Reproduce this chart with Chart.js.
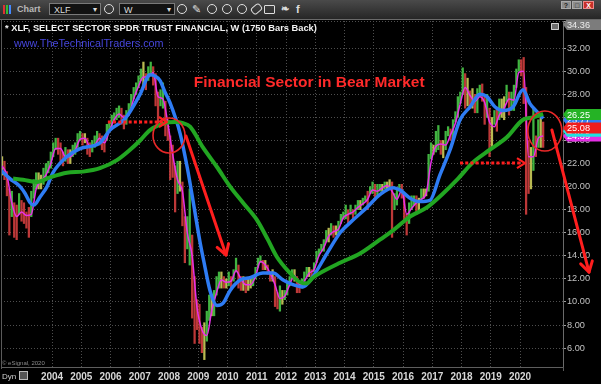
<!DOCTYPE html>
<html>
<head>
<meta charset="utf-8">
<script src="https://cdn.jsdelivr.net/npm/chart.js@4.4.1/dist/chart.umd.min.js"></script>
<style>
  html,body{margin:0;padding:0;background:#000;width:601px;height:384px;overflow:hidden;}
  #wrap{position:relative;width:601px;height:384px;font-family:"Liberation Sans",Arial,sans-serif;}
  #cv{position:absolute;left:0;top:0;width:601px;height:384px;}
  .abs{position:absolute;white-space:nowrap;}
  #tb{left:0;top:0;width:601px;height:19px;background:linear-gradient(#4a4a4a,#262626);border-bottom:1px solid #6a6a6a;}
  .box{position:absolute;top:3px;height:12px;background:#121212;border:1px solid #7a7a7a;color:#ddd;font-size:9px;line-height:12px;padding-left:4px;box-sizing:border-box;}
  .ic{position:absolute;top:4px;width:10px;height:10px;border:1.5px solid #e0e0e0;border-radius:50%;box-sizing:border-box;}
  .wb{position:absolute;top:1px;height:8px;width:10px;border:1px solid #aaa;background:#8c8c8c;color:#222;font-size:7px;line-height:7px;text-align:center;box-sizing:border-box;font-weight:bold;}
</style>
</head>
<body>
<div id="wrap">
  <div id="cv"><canvas id="c" width="601" height="384"></canvas></div>
  <div id="tb" class="abs">
    <span class="abs" style="left:3px;top:5px;width:2px;height:9px;background:#d33"></span>
    <span class="abs" style="left:6px;top:5px;width:2px;height:9px;background:#3b3"></span>
    <span class="abs" style="left:9px;top:5px;width:2px;height:9px;background:#48f"></span>
    <span class="abs" style="left:17px;top:4px;font-size:9px;font-weight:bold;color:#b8b8b8;line-height:11px">Chart</span>
    <div class="box" style="left:49px;width:52px">XLF<span class="abs" style="right:3px;top:0;font-size:8px">▾</span></div>
    <span class="ic" style="left:104px"></span>
    <div class="box" style="left:119px;width:56px">W<span class="abs" style="right:3px;top:0;font-size:8px">▾</span></div>
    <span class="ic" style="left:177px"></span>
    <span class="abs" style="left:192px;top:3px;font-size:11px;color:#ddd;line-height:12px">✎</span>
    <span class="ic" style="left:207px"></span>
    <span class="ic" style="left:222px"></span>
    <span class="ic" style="left:237px"></span>
    <span class="abs" style="left:251px;top:5px;width:9px;height:6px;border:1.5px solid #ddd;border-radius:3px;transform:rotate(-40deg)"></span>
    <span class="abs" style="left:264px;top:5px;width:9px;height:7px;border:1.5px solid #ddd;border-radius:1px"></span>
    <span class="abs" style="left:281px;top:3px;font-size:10px;font-weight:bold;color:#ddd;line-height:12px">❧</span>
    <span class="abs" style="left:296px;top:3px;font-size:11px;font-weight:bold;color:#ddd;line-height:12px">f</span>
    <span class="wb" style="left:561px">?</span>
    <span class="wb" style="left:572px">□</span>
    <span class="wb" style="left:583px;width:11px;background:#c8302a;color:#fff;border-color:#e88">X</span>
  </div>
  <div class="abs" style="left:5px;top:23px;font-size:9.3px;font-weight:bold;color:#f2f2f2;line-height:11px">* XLF, SELECT SECTOR SPDR TRUST FINANCIAL, W (1750 Bars Back)</div>
  <div class="abs" style="left:14px;top:37px;font-size:10.8px;color:#4646dc;line-height:12px">www.TheTechnicalTraders.com</div>
  <div class="abs" style="left:2px;top:360px;font-size:6px;color:#8a8a8a;line-height:7px">© eSignal, 2020</div>
  <div class="abs" style="left:2px;top:372px;font-size:8px;color:#cfcfcf;line-height:9px">Dyn</div>
  <div class="abs" style="left:19px;top:371px;width:9px;height:9px;border:1px solid #bbb;background:#555;box-sizing:border-box"></div>
</div>
<script>
// ---- DATA ----
// Monthly price bars, first bar = April 2002
const startYear = 2002.25;
const priceLow = [
  21.0, 20.6, 19.2, 15.8, 17.4, 15.6, 15.4, 17.6, 17.0,
  16.8, 16.4, 15.6, 17.4, 19.0, 19.8, 19.8, 19.8, 20.2, 20.6, 21.2, 21.6,
  22.6, 23.2, 22.8, 22.2, 21.8, 22.2, 22.0, 22.0, 22.6, 22.8, 23.4, 24.0,
  23.6, 23.8, 22.8, 22.6, 23.0, 23.4, 23.8, 23.6, 23.2, 23.0, 24.0, 24.8,
  25.2, 25.6, 25.8, 26.0, 25.4, 25.0, 25.4, 26.2, 26.8, 27.6, 28.0, 28.6,
  29.2, 28.6, 28.4, 29.2, 29.6, 28.8, 27.0, 25.6, 27.0, 26.8, 24.4, 24.0,
  20.6, 20.8, 17.8, 19.4, 19.6, 16.6, 13.4, 14.6, 13.2, 8.6, 6.4, 7.6,
  6.4, 5.6, 5.0, 6.6, 8.4, 8.8, 8.8, 10.6, 11.2, 11.2, 11.2, 11.2,
  11.4, 11.2, 11.8, 12.6, 11.2, 11.0, 11.0, 10.8, 11.0, 11.2, 11.4, 12.0,
  13.0, 13.4, 12.8, 12.8, 12.4, 11.8, 11.8, 9.6, 9.4, 9.2, 9.8, 10.2,
  10.6, 11.4, 12.0, 11.8, 10.8, 10.8, 11.2, 11.6, 12.2, 12.2, 12.0, 12.6,
  13.4, 14.0, 14.4, 14.4, 15.2, 15.2, 15.8, 15.6, 15.8, 15.8, 16.8, 17.2,
  17.2, 16.8, 17.6, 17.2, 17.6, 18.0, 18.0, 18.4, 18.8, 18.0, 19.4, 19.4,
  18.8, 19.2, 19.6, 19.6, 19.8, 19.8, 19.8, 15.6, 18.0, 18.4, 19.6, 19.0,
  17.0, 15.8, 16.8, 18.0, 18.4, 17.6, 18.0, 18.8, 19.0, 19.2, 19.6, 22.4,
  22.8, 23.0, 23.2, 22.8, 22.5, 23.2, 24.4, 24.0, 24.2, 25.6, 26.0, 27.2,
  28.0, 26.8, 27.0, 26.8, 26.8, 26.4, 26.4, 27.8, 27.4, 25.4, 26.0, 22.6,
  23.4, 25.4, 24.8, 25.8, 26.0, 25.8, 27.4, 26.2, 26.6, 26.6, 28.6, 30.0,
  29.6, 27.2, 17.6, 19.4, 19.8, 21.4, 22.6, 23.4, 23.4, 23.4
];
const priceHigh = [
  22.6, 22.2, 21.3, 19.8, 19.6, 18.6, 18.4, 19.4, 18.8,
  18.6, 17.8, 18.2, 19.6, 20.6, 21.2, 21.2, 21.0, 21.6, 22.0, 22.2, 23.0,
  23.8, 24.2, 24.2, 23.8, 23.0, 23.4, 23.2, 23.2, 23.6, 23.8, 24.6, 24.8,
  24.6, 24.6, 24.2, 23.8, 24.0, 24.4, 24.8, 24.6, 24.4, 24.2, 25.4, 25.6,
  26.2, 26.4, 26.8, 27.0, 26.8, 26.2, 26.6, 27.2, 28.0, 28.6, 29.0, 29.6,
  30.2, 30.8, 29.8, 30.4, 30.8, 30.4, 29.8, 28.2, 28.4, 29.0, 27.4, 25.8,
  24.4, 23.6, 21.8, 22.2, 22.2, 20.4, 17.4, 17.4, 19.8, 15.8, 12.2, 10.2,
  9.8, 7.8, 8.2, 9.2, 10.6, 10.4, 11.0, 12.2, 12.6, 12.6, 12.2, 12.0,
  12.6, 12.2, 12.8, 13.8, 13.2, 12.2, 12.2, 12.0, 12.0, 12.0, 12.2, 13.0,
  13.8, 14.0, 13.6, 13.6, 13.2, 12.6, 12.8, 12.2, 10.8, 11.4, 11.0, 11.0,
  11.8, 12.2, 12.8, 12.8, 12.2, 11.8, 12.0, 12.6, 13.0, 13.0, 12.8, 13.4,
  14.4, 14.6, 15.0, 15.4, 16.2, 16.4, 16.8, 16.6, 16.6, 17.0, 17.6, 17.8,
  18.4, 18.0, 18.4, 18.0, 18.4, 18.8, 18.8, 19.0, 19.2, 19.6, 20.0, 20.4,
  20.2, 20.2, 20.2, 20.2, 20.4, 20.4, 20.6, 20.4, 19.4, 19.8, 20.2, 20.2,
  19.4, 17.6, 18.6, 19.2, 19.2, 19.2, 19.0, 19.8, 19.8, 19.8, 22.8, 23.8,
  23.6, 24.8, 25.3, 24.0, 24.0, 24.8, 25.2, 25.0, 25.8, 26.5, 27.8, 28.2,
  30.3, 29.8, 29.4, 28.3, 28.5, 28.0, 28.5, 28.8, 28.9, 27.8, 28.0, 26.8,
  26.0, 26.6, 26.8, 27.6, 27.6, 27.8, 28.8, 28.2, 28.2, 28.8, 30.2, 31.0,
  31.0, 31.2, 28.6, 24.0, 23.4, 26.8, 24.4, 25.8, 26.0, 25.6
];
// Short moving average (magenta), one value every 2 months from April 2002
const magentaMA = [
  21.8, 21.0, 18.6, 17.4, 17.8,
  17.5, 17.6, 19.8, 20.5, 21.0, 22.0,
  23.3, 23.3, 22.6, 22.6, 23.1, 24.1,
  24.2, 23.5, 23.6, 24.2, 23.8, 24.8,
  25.8, 26.3, 26.0, 26.2, 27.6, 28.7,
  29.5, 29.5, 29.9, 27.8, 27.6, 25.5,
  22.8, 20.6, 19.6, 16.0, 14.0, 9.5,
  7.6, 7.1, 9.2, 10.8, 11.9, 11.7,
  11.8, 12.7, 12.0, 11.5, 11.5, 12.2,
  13.5, 13.2, 12.5, 11.5, 10.3, 10.5,
  11.5, 12.3, 11.5, 11.8, 12.5, 12.8,
  14.0, 14.7, 15.7, 16.1, 16.3, 17.3,
  17.6, 17.8, 18.2, 18.5, 18.9, 19.7,
  19.6, 19.9, 20.1, 19.6, 18.9, 19.7,
  17.6, 18.1, 18.6, 18.9, 19.4, 22.1,
  23.5, 23.7, 23.6, 24.5, 25.5, 27.2,
  28.6, 27.9, 27.4, 27.8, 27.3, 25.6,
  25.2, 26.2, 26.8, 27.6, 27.5, 29.9,
  30.0, 22.6, 22.6, 24.2, 24.4
];
// Medium moving average (blue)
const blueYears  = [2002.26,2002.56,2002.91,2003.08,2003.25,2003.38,2003.59,2003.83,2004.03,2004.51,2004.96,2005.64,2005.98,2006.50,2007.01,2007.35,2007.69,2007.86,2008.03,2008.38,2008.62,2008.82,2009.06,2009.20,2009.40,2009.64,2009.85,2010.09,2010.43,2010.77,2011.21,2011.56,2011.90,2012.24,2012.58,2012.92,2013.40,2013.85,2014.29,2014.77,2015.21,2015.66,2015.90,2016.24,2016.58,2016.92,2017.26,2017.61,2017.95,2018.29,2018.63,2018.87,2019.15,2019.42,2019.76,2020.10,2020.34,2020.58,2020.79];
const blueValues = [21.4,20.7,20.0,19.4,18.6,18.4,19.1,20.0,21.2,22.6,23.3,23.8,24.9,25.9,28.0,29.7,29.2,28.2,27.3,24.6,21.7,18.8,15.2,13.4,11.0,9.7,9.9,11.0,11.9,12.1,12.5,12.5,11.9,11.5,11.3,12.2,14.2,16.0,17.1,18.2,19.3,19.9,19.7,19.0,18.7,18.8,21.0,23.2,25.8,26.9,28.0,27.8,26.9,26.6,26.9,28.4,27.2,26.5,25.9];
// Long moving average (green)
const greenYears  = [2002.67,2003.01,2003.49,2003.93,2004.51,2005.06,2005.64,2006.22,2006.67,2007.01,2007.35,2007.86,2008.21,2008.48,2008.72,2009.16,2009.64,2010.09,2010.53,2011.01,2011.38,2011.69,2012.14,2012.48,2012.70,2012.92,2013.16,2013.85,2014.53,2015.21,2015.66,2016.24,2016.82,2017.37,2017.85,2018.39,2018.97,2019.56,2020.10,2020.44,2020.79];
const greenValues = [20.7,20.6,20.4,20.8,21.2,21.3,21.6,22.3,23.2,24.0,24.9,25.5,25.6,25.5,25.2,23.4,21.7,20.0,18.6,17.1,15.4,13.9,12.5,11.7,11.6,12.1,12.5,13.4,14.2,15.4,16.2,17.4,18.2,19.4,20.6,22.1,23.2,24.3,25.8,26.0,26.3];
// Axis ticks
const yearTicks = [2004,2005,2006,2007,2008,2009,2010,2011,2012,2013,2014,2015,2016,2017,2018,2019,2020];
const priceTicks = [6,8,10,12,14,16,18,20,22,24,26,28,30,32];
const axisMax = 34.36, axisMin = 4.36;
// Last-value tags on the price axis
const tagLabels = ['24.39','24.79','25.77','26.25','25.08'];
const tagValues = [24.39, 24.79, 25.77, 26.25, 25.08];

// ---- STYLE / ANNOTATIONS ----
const tagColors = ['#e42ee4','#22e0e0','#2f7ef2','#25b325','#f01c1c'];
const note = {
  text: 'Financial Sector in Bear Market', at: [2012.79, 28.98],
  circles: [[2008.0, 24.43, 16, 17.5], [2020.85, 24.82, 17, 20]],
  arrows: [[2008.58, 24.39, 2009.95, 14.07], [2021.09, 24.91, 2022.36, 12.59]],
  dotted: [[2005.91, 25.6, 2007.93, 25.6], [2017.95, 22.04, 2020.17, 22.04]]
};

const barData = priceLow.map((lo, i) => ({x: startYear + (i + 0.5) / 12, y: [lo, priceHigh[i]]}));
const barColors = priceLow.map((lo, i) => {
  const mid = (lo + priceHigh[i]) / 2;
  const prev = i ? (priceLow[i-1] + priceHigh[i-1]) / 2 : mid;
  if (Math.abs(mid - prev) < 0.15) return 'rgba(205,205,90,0.9)';
  return mid > prev ? 'rgba(72,200,72,0.9)' : 'rgba(210,62,62,0.9)';
});
const magData = magentaMA.map((v, i) => ({x: startYear + (2 * i + 0.5) / 12, y: v}));
const blueData = blueYears.map((t, i) => ({x: t, y: blueValues[i]}));
const greenData = greenYears.map((t, i) => ({x: t, y: greenValues[i]}));

function arrowHead(ctx, x1, y1, x2, y2, len, wid) {
  const dx = x2 - x1, dy = y2 - y1, L = Math.hypot(dx, dy);
  const ux = dx / L, uy = dy / L, nx = -uy, ny = ux;
  ctx.beginPath();
  ctx.moveTo(x2 - ux * len + nx * wid, y2 - uy * len + ny * wid);
  ctx.lineTo(x2, y2);
  ctx.lineTo(x2 - ux * len - nx * wid, y2 - uy * len - ny * wid);
  ctx.stroke();
}

const annot = {
  id: 'annot',
  afterDraw(chart) {
    const {ctx, scales: {x, y}, chartArea: ca} = chart;
    const X = t => x.getPixelForValue(t), Y = v => y.getPixelForValue(v);
    ctx.save();
    // frame lines
    ctx.strokeStyle = '#5a5a5a'; ctx.lineWidth = 1;
    ctx.beginPath(); ctx.moveTo(1.5, 20); ctx.lineTo(1.5, ca.bottom + 2); ctx.stroke();
    ctx.beginPath(); ctx.moveTo(ca.right + 0.5, ca.bottom); ctx.lineTo(ca.right + 0.5, 371); ctx.stroke();
    // ellipses
    ctx.strokeStyle = '#e82828'; ctx.lineWidth = 1.6;
    note.circles.forEach(c => { ctx.beginPath(); ctx.ellipse(X(c[0]), Y(c[1]), c[2], c[3], 0, 0, Math.PI * 2); ctx.stroke(); });
    // solid arrows
    ctx.strokeStyle = '#ff1e1e'; ctx.lineWidth = 3; ctx.lineCap = 'round'; ctx.lineJoin = 'round';
    note.arrows.forEach(a => {
      const x1 = X(a[0]), y1 = Y(a[1]), x2 = X(a[2]), y2 = Y(a[3]);
      ctx.beginPath(); ctx.moveTo(x1, y1); ctx.lineTo(x2, y2); ctx.stroke();
      arrowHead(ctx, x1, y1, x2, y2, 10, 6);
    });
    // dotted arrows
    ctx.lineCap = 'butt';
    note.dotted.forEach(a => {
      const x1 = X(a[0]), y1 = Y(a[1]), x2 = X(a[2]), y2 = Y(a[3]);
      ctx.setLineDash([3, 2.2]); ctx.lineWidth = 3;
      ctx.beginPath(); ctx.moveTo(x1, y1); ctx.lineTo(x2 - 3, y2); ctx.stroke();
      ctx.setLineDash([]); ctx.lineWidth = 2.2;
      arrowHead(ctx, x1, y1, x2, y2, 8, 5);
    });
    // headline
    ctx.fillStyle = '#ff2a2a'; ctx.font = 'bold 15.5px "Liberation Sans", Arial';
    ctx.textAlign = 'center'; ctx.textBaseline = 'middle';
    ctx.fillText(note.text, X(note.at[0]), Y(note.at[1]));
    // small icon near top-right
    ctx.fillStyle = '#6e6e6e'; ctx.fillRect(551, 23, 8, 7);
    ctx.strokeStyle = '#d0d0d0'; ctx.lineWidth = 1; ctx.strokeRect(551.5, 23.5, 7, 6);
    // price tags
    ctx.textAlign = 'left';
    const tag = (yc, bg, fg, text) => {
      const x0 = ca.right, h = 11;
      ctx.beginPath(); ctx.moveTo(x0, yc); ctx.lineTo(x0 + 4, yc - h / 2); ctx.lineTo(601, yc - h / 2);
      ctx.lineTo(601, yc + h / 2); ctx.lineTo(x0 + 4, yc + h / 2); ctx.closePath();
      ctx.fillStyle = bg; ctx.fill();
      ctx.fillStyle = fg; ctx.font = '9.2px "Liberation Sans", Arial';
      ctx.fillText(text, x0 + 4, yc + 0.5);
    };
    tag(24.5, '#7c7c7c', '#ececec', axisMax.toFixed(2));
    tagValues.forEach((v, i) => tag(Y(v), tagColors[i], '#ffffff', tagLabels[i]));
    ctx.restore();
  }
};

new Chart(document.getElementById('c'), {
  type: 'bar',
  data: {
    datasets: [
      {type: 'line', label: 'Long MA', data: greenData, borderColor: '#22a622', borderWidth: 4, pointRadius: 0, tension: 0.4, cubicInterpolationMode: 'monotone', order: 0},
      {type: 'line', label: 'Medium MA', data: blueData, borderColor: '#2e7cf4', borderWidth: 3.5, pointRadius: 0, tension: 0.4, cubicInterpolationMode: 'monotone', order: 1},
      {type: 'line', label: 'Short MA', data: magData, borderColor: '#e830e8', borderWidth: 1.5, pointRadius: 0, tension: 0.4, cubicInterpolationMode: 'monotone', order: 2},
      {type: 'bar', label: 'XLF', data: barData, backgroundColor: barColors, borderWidth: 0, barThickness: 1.6, order: 3}
    ]
  },
  options: {
    responsive: true, maintainAspectRatio: false, animation: false,
    layout: {padding: {top: 21, left: 1, right: 0, bottom: 0}},
    plugins: {legend: {display: false}, tooltip: {enabled: false}},
    scales: {
      x: {
        type: 'linear', min: 2002.256, max: 2021.47, position: 'bottom', offset: false,
        afterBuildTicks: s => { s.ticks = yearTicks.map(v => ({value: v})); },
        afterFit: s => { s.height = 17; },
        ticks: {color: '#d6d6d6', font: {family: '"Liberation Sans", Arial', size: 10, weight: 'bold'}, padding: 4, maxRotation: 0, autoSkip: false, callback: v => String(v)},
        grid: {color: '#4e4e4e', drawTicks: false, offset: false},
        border: {display: true, color: '#5e5e5e', dash: [1, 2]}
      },
      y: {
        type: 'linear', position: 'right', min: axisMin, max: axisMax,
        afterBuildTicks: s => { s.ticks = priceTicks.map(v => ({value: v})).concat([{value: axisMax}]); },
        afterFit: s => { s.width = 38; },
        ticks: {color: '#c2c2c2', font: {family: '"Liberation Sans", Arial', size: 9.2}, padding: 1, autoSkip: false, callback: v => v === axisMax ? '' : v.toFixed(2)},
        grid: {color: '#4e4e4e', tickColor: '#a0a0a0', tickLength: 3, drawTicks: true},
        border: {display: true, color: '#6a6a6a', dash: [1, 2]}
      }
    }
  },
  plugins: [annot]
});
</script>
</body>
</html>
